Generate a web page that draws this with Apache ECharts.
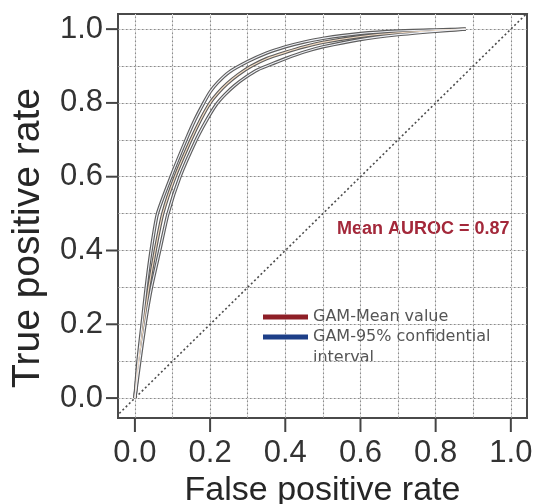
<!DOCTYPE html>
<html>
<head>
<meta charset="utf-8">
<script src="https://cdn.jsdelivr.net/npm/echarts@6/dist/echarts.min.js"></script>
<style>
html,body{margin:0;padding:0;background:#fff;}
#c{width:535px;height:504px;}
</style>
</head>
<body>
<div id="c"></div>
<script>
// ---- data ----
var tickValues = [0.0, 0.2, 0.4, 0.6, 0.8, 1.0];
var gridValues = [0.0, 0.1, 0.2, 0.3, 0.4, 0.5, 0.6, 0.7, 0.8, 0.9, 1.0];

var upperFPR = [0, 0.008, 0.019, 0.03, 0.043, 0.06, 0.096, 0.136, 0.16, 0.183, 0.2, 0.22, 0.25, 0.3, 0.35, 0.4, 0.45, 0.5, 0.6, 0.7, 0.8, 0.88];
var upperTPR = [0, 0.1, 0.2, 0.3, 0.4, 0.5, 0.6, 0.7, 0.755, 0.8, 0.83, 0.855, 0.883, 0.912, 0.935, 0.952, 0.965, 0.975, 0.988, 0.995, 0.998, 1.0];

var meanFPR = [0, 0.01, 0.023, 0.037, 0.054, 0.074, 0.107, 0.149, 0.175, 0.2, 0.22, 0.245, 0.275, 0.31, 0.35, 0.4, 0.45, 0.5, 0.6, 0.7, 0.8, 0.88];
var meanTPR = [0, 0.1, 0.2, 0.3, 0.4, 0.5, 0.6, 0.7, 0.755, 0.8, 0.826, 0.852, 0.877, 0.9, 0.92, 0.937, 0.952, 0.964, 0.98, 0.99, 0.996, 1.0];

var lowerFPR = [0, 0.013, 0.027, 0.044, 0.066, 0.088, 0.12, 0.163, 0.19, 0.216, 0.24, 0.265, 0.295, 0.327, 0.37, 0.4, 0.45, 0.5, 0.6, 0.7, 0.8, 0.88];
var lowerTPR = [0, 0.1, 0.2, 0.3, 0.4, 0.5, 0.6, 0.7, 0.752, 0.795, 0.823, 0.847, 0.87, 0.89, 0.908, 0.92, 0.938, 0.952, 0.972, 0.985, 0.994, 1.0];

var diagX = [-0.05, 1.05];
var diagY = [-0.05, 1.05];

var meanName = 'GAM-Mean value';
var ciName = 'GAM-95% confidential interval';
var aurocText = 'Mean AUROC = 0.87';

var X_MIN = -0.045, X_MAX = 1.043;
var Y_MIN = -0.054, Y_MAX = 1.041;

// ---- helpers ----
function zip(a, b) { return a.map(function (v, i) { return [v, b[i]]; }); }

var gridMarks = [];
gridValues.forEach(function (v) {
  gridMarks.push({ xAxis: v, lineStyle: { color: '#dcdcdc', width: 1, type: 'solid' } });
  gridMarks.push({ xAxis: v, lineStyle: { color: '#8a8a8a', width: 1.1, type: [1.5, 2.5] } });
  gridMarks.push({ yAxis: v, lineStyle: { color: '#dcdcdc', width: 1, type: 'solid' } });
  gridMarks.push({ yAxis: v, lineStyle: { color: '#8a8a8a', width: 1.1, type: [1.5, 2.5] } });
});

function casing(name, x, y, z) {
  return {
    type: 'line', name: name, data: zip(x, y), showSymbol: false, symbol: 'none',
    smooth: 0.2, z: z,
    lineStyle: { color: '#5e5e5e', width: 3.4 }, itemStyle: { color: '#5e5e5e' }
  };
}
function inner(x, y, col, z) {
  return {
    type: 'line', data: zip(x, y), showSymbol: false, symbol: 'none',
    smooth: 0.2, z: z, silent: true,
    lineStyle: { color: col, width: 1.1 }, itemStyle: { color: col }
  };
}
function isTick(v) {
  return tickValues.some(function (t) { return Math.abs(t - v) < 1e-6; });
}

// outward tick marks drawn through the axis scales
function tickSeries(horizontal) {
  return {
    type: 'custom', silent: true, clip: false, z: 10,
    data: tickValues.map(function (v) { return horizontal ? [v, Y_MIN] : [X_MIN, v]; }),
    renderItem: function (params, api) {
      var p = api.coord([api.value(0), api.value(1)]);
      var x2 = horizontal ? p[0] : p[0] - 12;
      var y2 = horizontal ? p[1] + 14 : p[1];
      return {
        type: 'line',
        shape: { x1: p[0], y1: p[1], x2: x2, y2: y2 },
        style: { stroke: '#444', lineWidth: 2 }
      };
    }
  };
}

var chart = echarts.init(document.getElementById('c'), null, { renderer: 'canvas' });
var font = 'Liberation Sans, Arial, sans-serif';
var legendFont = 'DejaVu Sans, sans-serif';

chart.setOption({
  animation: false,
  backgroundColor: '#fff',
  textStyle: { fontFamily: font },
  tooltip: { show: false },
  grid: {
    left: 118, right: 8, top: 14, bottom: 86,
    outerBoundsMode: 'none', containLabel: false,
    show: true, borderColor: '#4a4a4a', borderWidth: 2, backgroundColor: 'transparent'
  },
  xAxis: {
    type: 'value', min: X_MIN, max: X_MAX, splitNumber: 5,
    name: 'False positive rate', nameLocation: 'middle', nameGap: 44,
    nameTextStyle: { fontSize: 34, color: '#262626', fontFamily: font },
    axisLine: { show: true, onZero: false, lineStyle: { color: '#4a4a4a', width: 2 } },
    splitLine: { show: false },
    axisTick: { show: false },
    axisLabel: { showMinLabel: false, showMaxLabel: false, fontSize: 31, color: '#333', margin: 20, fontFamily: font,
      formatter: function (v) { return isTick(v) ? v.toFixed(1) : ''; } }
  },
  yAxis: {
    type: 'value', min: Y_MIN, max: Y_MAX, splitNumber: 5,
    name: 'True positive rate', nameLocation: 'middle', nameGap: 70,
    nameTextStyle: { fontSize: 39, color: '#262626', fontFamily: font, padding: [0, 44, 0, 0] },
    axisLine: { show: true, onZero: false, lineStyle: { color: '#4a4a4a', width: 2 } },
    splitLine: { show: false },
    axisTick: { show: false },
    axisLabel: { showMinLabel: false, showMaxLabel: false, fontSize: 31, color: '#333', margin: 15, fontFamily: font,
      formatter: function (v) { return isTick(v) ? v.toFixed(1) : ''; } }
  },
  legend: {
    orient: 'vertical', left: 263, top: 308, padding: 0,
    itemWidth: 45, itemHeight: 5, itemGap: 2,
    icon: 'rect',
    selectedMode: false,
    textStyle: { fontSize: 16, color: '#555', lineHeight: 18, fontFamily: legendFont },
    formatter: function (n) { return n === ciName ? 'GAM-95% confidential' : n; },
    data: [
      { name: meanName, itemStyle: { color: '#8e1f27' } },
      { name: ciName, itemStyle: { color: '#1d3f88' } }
    ]
  },
  graphic: [
    { type: 'text', left: 313, top: 350, style: { text: 'interval', font: '16px ' + legendFont, fill: '#555' } },
    { type: 'text', left: 337, top: 220, style: { text: aurocText, font: 'bold 18px ' + font, fill: '#a3283a' } }
  ],
  series: [
    {
      type: 'line', data: zip(diagX, diagY), showSymbol: false, symbol: 'none', z: 2, silent: true,
      lineStyle: { color: '#4d4d4d', width: 1.6, type: [2, 2.5] },
      markLine: { silent: true, symbol: 'none', label: { show: false }, data: gridMarks, z: 1 }
    },
    casing(ciName, upperFPR, upperTPR, 3),
    casing(meanName, meanFPR, meanTPR, 3),
    casing('ci-lower', lowerFPR, lowerTPR, 3),
    inner(upperFPR, upperTPR, '#eef0f6', 4),
    inner(meanFPR, meanTPR, '#f3dcc4', 4),
    inner(lowerFPR, lowerTPR, '#eef0f6', 4),
    tickSeries(true),
    tickSeries(false)
  ]
});
</script>
</body>
</html>
